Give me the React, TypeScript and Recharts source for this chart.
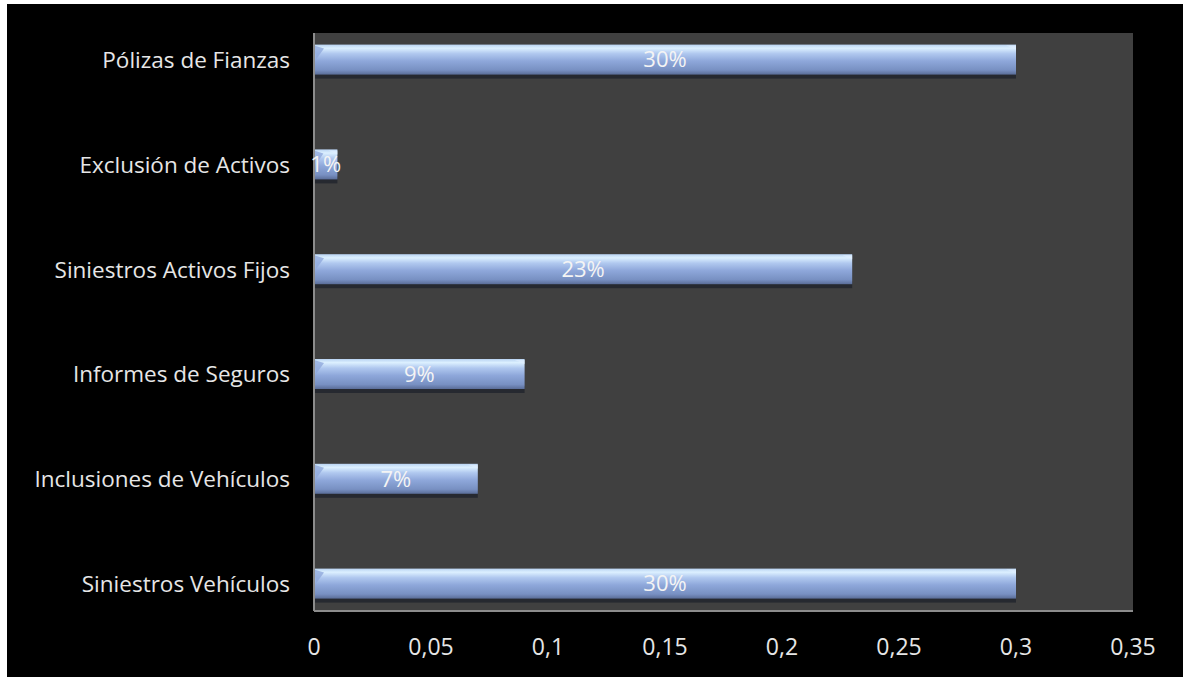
import React from "react";
import { BarChart, Bar, XAxis, YAxis, CartesianGrid, LabelList } from "recharts";

const categories = [
  "Pólizas de Fianzas",
  "Exclusión de Activos",
  "Siniestros Activos Fijos",
  "Informes de Seguros",
  "Inclusiones de Vehículos",
  "Siniestros Vehículos",
];
const values = [0.3, 0.01, 0.23, 0.09, 0.07, 0.3];
const xTicks = [0, 0.05, 0.1, 0.15, 0.2, 0.25, 0.3, 0.35];

const data = categories.map((name, i) => ({ name, value: values[i] }));

const FONT = "'Open Sans', sans-serif";

const BarShape = (props: any) => {
  const { x, y, width, height } = props;
  if (width <= 0) return null;
  const t = Math.min(10, width * 0.4);
  return (
    <g>
      <rect x={x} y={y + height - 3} width={width} height={7} fill="#22262e" opacity={0.85} />
      <rect x={x} y={y} width={width} height={height} fill="url(#barGrad)" />
      <polygon
        points={`${x},${y + 1} ${x + t},${y + 4} ${x + 2},${y + height * 0.5}`}
        fill="#90a9dc"
        opacity={0.8}
      />
      <polygon
        points={`${x + width},${y + 1} ${x + width - t},${y + 1} ${x + width},${y + 5}`}
        fill="#dfeeff"
        opacity={0.7}
      />
    </g>
  );
};

export default function App() {
  return (
    <div
      style={{
        position: "absolute",
        left: 7,
        top: 4,
        width: 1176,
        height: 673,
        background: "#000",
      }}
    >
      <BarChart
        width={1176}
        height={673}
        data={data}
        layout="vertical"
        margin={{ top: 29, right: 50, left: 0, bottom: 0 }}
      >
        <defs>
          <linearGradient id="barGrad" x1="0" y1="0" x2="0" y2="1">
            <stop offset="0" stopColor="#b9d3f2" />
            <stop offset="0.12" stopColor="#dcf0ff" />
            <stop offset="0.3" stopColor="#b0c8ef" />
            <stop offset="0.55" stopColor="#8ea7da" />
            <stop offset="0.85" stopColor="#7890c2" />
            <stop offset="1" stopColor="#5a6d98" />
          </linearGradient>
        </defs>
        <CartesianGrid fill="#404040" horizontal={false} vertical={false} stroke="none" />
        <XAxis
          type="number"
          domain={[0, 0.35]}
          ticks={xTicks}
          interval={0}
          height={66}
          axisLine={{ stroke: "#8c8c8c", strokeWidth: 2 }}
          tickLine={false}
          tick={{ fill: "#e6e6e6", fontSize: 23, fontFamily: FONT }}
          tickMargin={22}
          tickFormatter={(v: number) => String(v).replace(".", ",")}
        />
        <YAxis
          type="category"
          dataKey="name"
          width={307}
          padding={{ top: -25.4, bottom: -25.4 }}
          axisLine={{ stroke: "#8c8c8c", strokeWidth: 2 }}
          tickLine={false}
          tickMargin={18}
          tick={{ fill: "#e6e6e6", fontSize: 22.5, fontFamily: FONT }}
        />
        <Bar
          dataKey="value"
          barSize={30}
          isAnimationActive={false}
          shape={<BarShape />}
        >
          <LabelList
            dataKey="value"
            position="center"
            fill="#f4f4f4"
            fontSize={22}
            fontFamily={FONT}
            formatter={(v: any) => `${Math.round(Number(v) * 100)}%`}
          />
        </Bar>
      </BarChart>
    </div>
  );
}
